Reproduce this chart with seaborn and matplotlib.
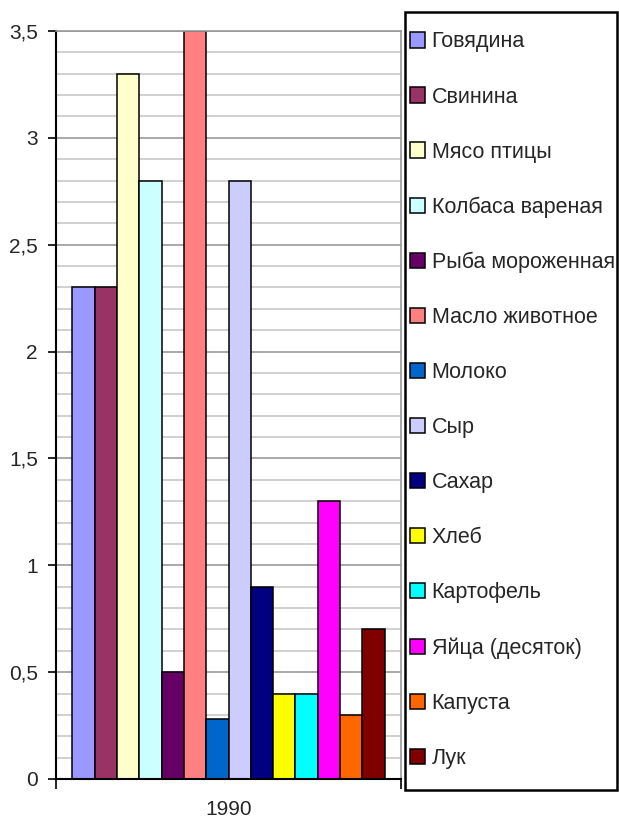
import matplotlib
matplotlib.use('Agg')
import matplotlib.pyplot as plt
import matplotlib.ticker as mticker
from matplotlib.patches import Rectangle
import seaborn as sns
import pandas as pd

# data (one category, 14 products)
year = '1990'
products = ['Говядина', 'Свинина', 'Мясо птицы', 'Колбаса вареная', 'Рыба мороженная',
            'Масло животное', 'Молоко', 'Сыр', 'Сахар', 'Хлеб', 'Картофель',
            'Яйца (десяток)', 'Капуста', 'Лук']
values = [2.3, 2.3, 3.3, 2.8, 0.5, 3.5, 0.28, 2.8, 0.9, 0.4, 0.4, 1.3, 0.3, 0.7]
colors = ['#9999FF', '#993366', '#FFFFCC', '#CCFFFF', '#660066', '#FF8080', '#0066CC',
          '#CCCCFF', '#000080', '#FFFF00', '#00FFFF', '#FF00FF', '#FF6600', '#800000']

df = pd.DataFrame({'year': [year] * len(products), 'product': products, 'value': values})

sns.set_style('white')
plt.rcParams['font.family'] = ['Liberation Sans', 'DejaVu Sans']

fig = plt.figure(figsize=(6.19, 8.19), dpi=100)
ax = fig.add_axes([56 / 619, 40 / 819, 345 / 619, 748 / 819])

sns.barplot(data=df, x='year', y='value', hue='product', hue_order=products,
            palette=colors, saturation=1, width=0.905, edgecolor='black',
            linewidth=1.1, ax=ax)

ax.set_xlim(-0.5, 0.5)
ax.set_ylim(0, 3.5)
ax.set_xlabel('')
ax.set_ylabel('')

# gridlines like Excel: major every 0.5, minor every 0.1
ax.yaxis.set_major_locator(mticker.MultipleLocator(0.5))
ax.yaxis.set_minor_locator(mticker.MultipleLocator(0.1))
ax.yaxis.set_major_formatter(mticker.FuncFormatter(lambda v, p: f'{v:g}'.replace('.', ',')))
ax.grid(True, which='major', axis='y', color='#999999', linewidth=1.2)
ax.grid(True, which='minor', axis='y', color='#C8C8C8', linewidth=1.2)
ax.set_axisbelow(True)

ax.tick_params(axis='y', which='major', direction='out', length=6, width=1.2,
               color='black', labelsize=15, pad=7, left=True)
ax.tick_params(axis='y', which='minor', length=0)
ax.xaxis.set_minor_locator(mticker.FixedLocator([-0.5, 0.5]))
ax.tick_params(axis='x', which='major', length=0, labelsize=15, pad=15)
ax.tick_params(axis='x', which='minor', direction='out', length=7, width=1.2,
               color='black', bottom=True)

for side in ['left', 'bottom']:
    ax.spines[side].set_color('black')
    ax.spines[side].set_linewidth(1.5)
for side in ['top', 'right']:
    ax.spines[side].set_color('#999999')
    ax.spines[side].set_linewidth(1.2)

# legend: entries without frame, box drawn separately so the side padding stays tight
handles, labels = ax.get_legend_handles_labels()
ax.get_legend().remove()
fig.legend(handles, labels, loc='upper left',
           bbox_to_anchor=(410 / 619, 1 - 31.5 / 819),
           fontsize=15.5, frameon=False, labelspacing=1.58,
           borderpad=0, borderaxespad=0,
           handlelength=0.7, handleheight=0.7, handletextpad=0.3)
fig.patches.append(Rectangle((405 / 619, 1 - 790 / 819), 212 / 619, 778 / 819,
                             transform=fig.transFigure, fill=False,
                             edgecolor='black', linewidth=1.8))

fig.savefig('out.png', dpi=100)
